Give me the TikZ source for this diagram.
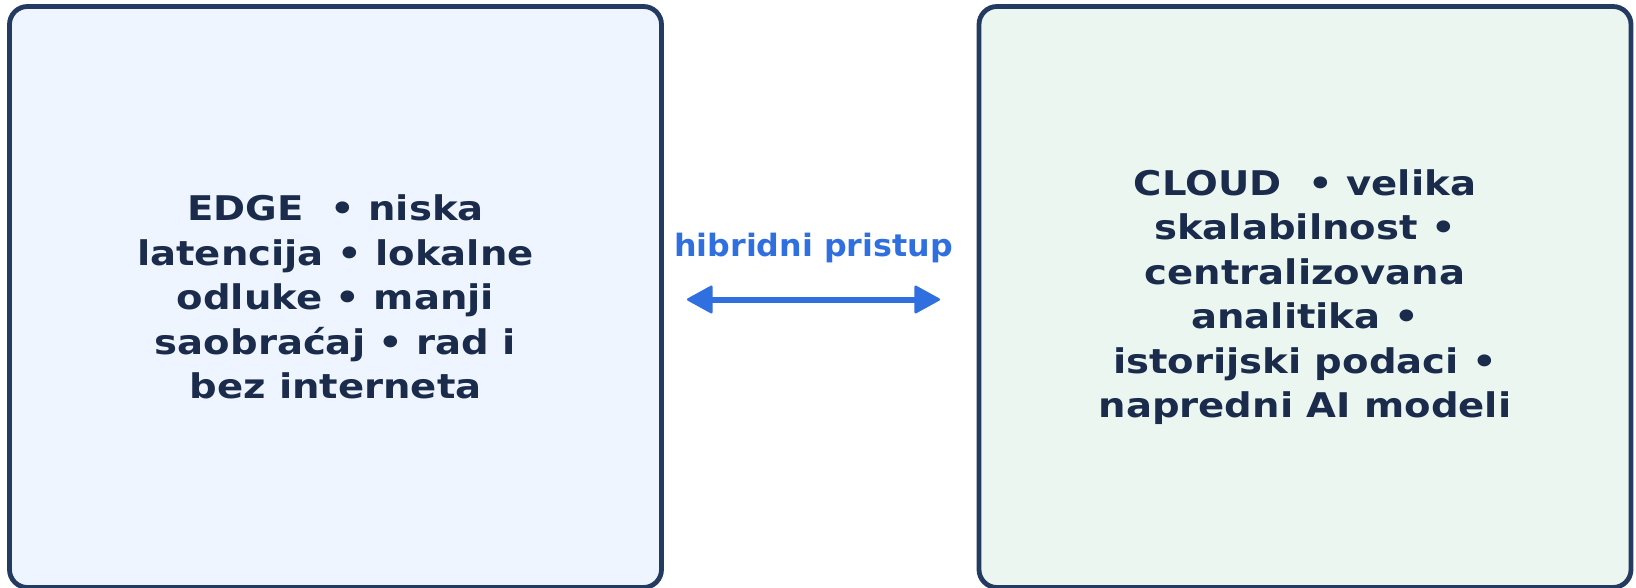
\documentclass[tikz,border=0pt]{standalone}
\usepackage{fontspec}
\setmainfont{DejaVu Sans}
\newfontfamily\panelfont{DejaVu Sans}[FakeStretch=1.135]
\newfontfamily\labelfont{DejaVu Sans}[FakeStretch=1.03]
\usetikzlibrary{arrows.meta}
\definecolor{navy}{HTML}{1A2B4C}
\definecolor{edgeline}{HTML}{233B60}
\definecolor{edgefill}{HTML}{EEF5FE}
\definecolor{cloudfill}{HTML}{EBF6F0}
\definecolor{hyblue}{HTML}{2F6FDF}
\tikzset{
  panel/.style={draw=edgeline, line width=4.8pt, rounded corners=18pt,
    minimum height=581pt, minimum width=652pt, align=center, text=navy,
    font=\panelfont\bfseries\fontsize{34}{44.5}\selectfont, inner sep=0pt},
  hlabel/.style={text=hyblue, font=\labelfont\bfseries\fontsize{30.8}{36}\selectfont, inner sep=0pt},
  tipshape/.tip={Triangle[length=27pt,width=29pt,line width=2.5pt,round]},
  harrow/.style={draw=hyblue, fill=hyblue, line width=6pt, tipshape-tipshape}
}
\begin{document}
\begin{tikzpicture}[x=1pt,y=-1pt]
\useasboundingbox (0,0) rectangle (1636,588);
\node[panel, fill=edgefill] (edge) at (335.5,297)
  {EDGE\ \ • niska\\latencija • lokalne\\odluke • manji\\saobraćaj • rad i\\bez interneta};
\node[panel, fill=cloudfill] (cloud) at (1305,297)
  {CLOUD\ \ • velika\\skalabilnost •\\centralizovana\\analitika •\\istorijski podaci •\\napredni AI modeli};
\node[hlabel, anchor=base] (lab) at (813.5,256.7) {hibridni pristup};
\coordinate (al) at (687,299.5);
\coordinate (ar) at (940,299.5);
\draw[harrow] (al) -- (ar);
\end{tikzpicture}
\end{document}
